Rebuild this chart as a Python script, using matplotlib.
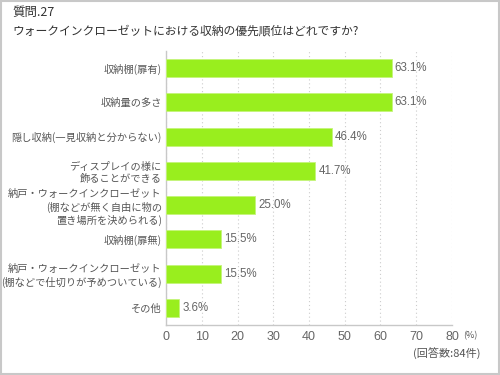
import matplotlib
matplotlib.use("Agg")
import matplotlib.pyplot as plt
from matplotlib.patches import Rectangle

plt.rcParams['font.family'] = ['Noto Sans CJK JP', 'DejaVu Sans']

categories = [
    "収納棚(扉有)",
    "収納量の多さ",
    "隠し収納(一見収納と分からない)",
    "ディスプレイの様に\n飾ることができる",
    "納戸・ウォークインクローゼット\n(棚などが無く自由に物の\n置き場所を決められる)",
    "収納棚(扉無)",
    "納戸・ウォークインクローゼット\n(棚などで仕切りが予めついている)",
    "その他",
]
values = [63.1, 63.1, 46.4, 41.7, 25.0, 15.5, 15.5, 3.6]
xticks = [0, 10, 20, 30, 40, 50, 60, 70, 80]

text_color = "#555555"
bar_color = "#99EE1E"

fig = plt.figure(figsize=(5, 3.75), dpi=100)
fig.patch.set_facecolor("white")
fig.add_artist(Rectangle((0.002, 0.003), 0.996, 0.994, transform=fig.transFigure,
                         fill=False, edgecolor="#c8c8c8", linewidth=1.5))

ax = fig.add_axes([0.332, 0.1333, 0.572, 0.7307])
y = list(range(len(categories)))
ax.barh(y, values, height=0.53, color=bar_color, edgecolor="#c4f47a", linewidth=0.6, zorder=3)
for yi, v in zip(y, values):
    ax.text(v + 0.9, yi, f"{v:.1f}%", va="center", ha="left", fontsize=8.3,
            color="#666666", family=["Liberation Sans", "DejaVu Sans"])

ax.set_xlim(0, 80)
ax.set_ylim(7.5, -0.5)
ax.set_yticks(y)
ax.set_yticklabels(categories, fontsize=7.35, color=text_color, linespacing=1.3,
                   multialignment="right")
ax.set_xticks(xticks)
ax.set_xticklabels([str(t) for t in xticks], fontsize=9, color="#666666",
                   family=["Liberation Sans", "DejaVu Sans"])
ax.tick_params(axis="y", length=0, pad=3)
ax.tick_params(axis="x", length=0, pad=4)
ax.grid(axis="x", linestyle=(0, (1, 2.5)), color="#cccccc", linewidth=0.8, zorder=0)
for s in ["top", "right"]:
    ax.spines[s].set_visible(False)
for s in ["left", "bottom"]:
    ax.spines[s].set_color("#c8c8c8")
    ax.spines[s].set_linewidth(1.0)

fig.text(0.926, 0.106, "(%)", fontsize=6.5, color=text_color, ha="left", va="center")
fig.text(0.962, 0.057, "(回答数:84件)", fontsize=8, color=text_color, ha="right", va="center")

fig.text(0.024, 0.967, "質問.27", fontsize=9, color="#333333", ha="left", va="center")
fig.text(0.024, 0.918, "ウォークインクローゼットにおける収納の優先順位はどれですか?",
         fontsize=8.5, color="#333333", ha="left", va="center")

fig.savefig("out.png", dpi=100)
